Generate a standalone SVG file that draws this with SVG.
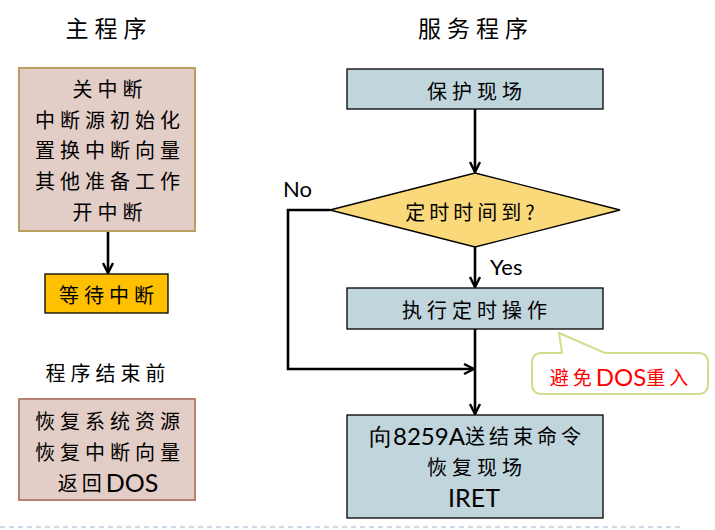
<svg xmlns="http://www.w3.org/2000/svg" width="715" height="530" viewBox="0 0 715 530">
<defs>
<style>
.cjk{font-family:"Noto Sans CJK SC","Noto Sans",sans-serif;font-size:20px;fill:#000;text-anchor:middle;dominant-baseline:central;letter-spacing:5px}
.lat{font-family:Lato,"Liberation Sans","Noto Sans CJK SC",sans-serif;font-size:22px;fill:#000;dominant-baseline:central}
.title{font-size:23px;letter-spacing:6px}
.blue{fill:#c1d5dd;stroke:#000;stroke-width:1.3}
.conn{fill:none;stroke:#000;stroke-width:2.6}
</style>
<marker id="arr" viewBox="0 0 12 12" refX="11" refY="6" markerWidth="12" markerHeight="12" markerUnits="userSpaceOnUse" orient="auto">
<path d="M1,1 L11,6 L1,11" fill="none" stroke="#000" stroke-width="2.4"/>
</marker>
</defs>
<rect width="715" height="530" fill="#fff"/>

<g id="titles">
<text class="cjk title" x="109" y="27">主程序</text>
<text class="cjk title" x="476" y="27">服务程序</text>
<text class="cjk" x="108" y="372">程序结束前</text>
</g>

<g id="connectors">
<line class="conn" x1="108" y1="232" x2="108" y2="273" marker-end="url(#arr)"/>
<line class="conn" x1="475" y1="109" x2="475" y2="172" marker-end="url(#arr)"/>
<line class="conn" x1="475" y1="247" x2="475" y2="287" marker-end="url(#arr)"/>
<line class="conn" x1="475" y1="329" x2="475" y2="414" marker-end="url(#arr)"/>
<polyline class="conn" points="330,210 288,210 288,369 474,369" marker-end="url(#arr)"/>
<text class="lat" x="283" y="188">No</text>
<text class="lat" x="490" y="266">Yes</text>
</g>

<g id="n-init">
<rect x="19" y="68" width="176" height="163" fill="#e3cdc7" stroke="#b9a060" stroke-width="2"/>
<text class="cjk" x="110" y="88">关中断</text>
<text class="cjk" x="110" y="119">中断源初始化</text>
<text class="cjk" x="110" y="149">置换中断向量</text>
<text class="cjk" x="110" y="180">其他准备工作</text>
<text class="cjk" x="110" y="211">开中断</text>
</g>

<g id="n-wait">
<rect x="45" y="274" width="123" height="39" fill="#ffc000" stroke="#000" stroke-width="1.3"/>
<text class="cjk" x="109" y="294">等待中断</text>
</g>

<g id="n-end">
<rect x="19" y="399" width="176" height="101" fill="#e3cdc7" stroke="#b88270" stroke-width="2"/>
<text class="cjk" x="110" y="420">恢复系统资源</text>
<text class="cjk" x="110" y="451">恢复中断向量</text>
<text x="108" y="482" class="cjk" style="letter-spacing:4px"><tspan>返回</tspan><tspan style="font-family:Lato,'Liberation Sans',sans-serif;font-size:25px;letter-spacing:0">DOS</tspan></text>
</g>

<g id="n-save">
<rect class="blue" x="347" y="69" width="256" height="40"/>
<text class="cjk" x="477" y="90">保护现场</text>
</g>

<g id="n-decision">
<polygon points="475,173 620,210 475,247 330,210" fill="#fad97a" stroke="#000" stroke-width="1.3"/>
<text class="cjk" x="470" y="211" style="letter-spacing:4px">定时时间到<tspan style="letter-spacing:0">?</tspan></text>
</g>

<g id="n-exec">
<rect class="blue" x="347" y="288" width="256" height="41"/>
<text class="cjk" x="477" y="309">执行定时操作</text>
</g>

<g id="n-ret">
<rect class="blue" x="347" y="415" width="256" height="103"/>
<text x="477" y="435" class="cjk" style="letter-spacing:4px"><tspan style="font-family:Lato,'Liberation Sans',sans-serif;font-size:24px;letter-spacing:0">向8259A</tspan>送结束命令</text>
<text class="cjk" x="477" y="466">恢复现场</text>
<text class="lat" x="474" y="497" text-anchor="middle" style="font-size:25px">IRET</text>
</g>

<g id="n-callout">
<path d="M545,353 L562,353 L559,333 L605,353 L698,353 Q708,353 708,363 L708,384 Q708,394 698,394 L542,394 Q532,394 532,384 L532,363 Q532,353 542,353 Z" fill="#fff" stroke="#d5dc8e" stroke-width="2"/>
<text x="621" y="376" class="cjk" style="fill:#ff0000;letter-spacing:4px;font-size:19px">避免<tspan style="font-family:Lato,'Liberation Sans',sans-serif;font-size:24px;letter-spacing:0">DOS</tspan>重入</text>
</g>

<line x1="0" y1="527" x2="680" y2="527" stroke="#9fb3c8" stroke-width="1.2" stroke-dasharray="5,4"/>
</svg>
